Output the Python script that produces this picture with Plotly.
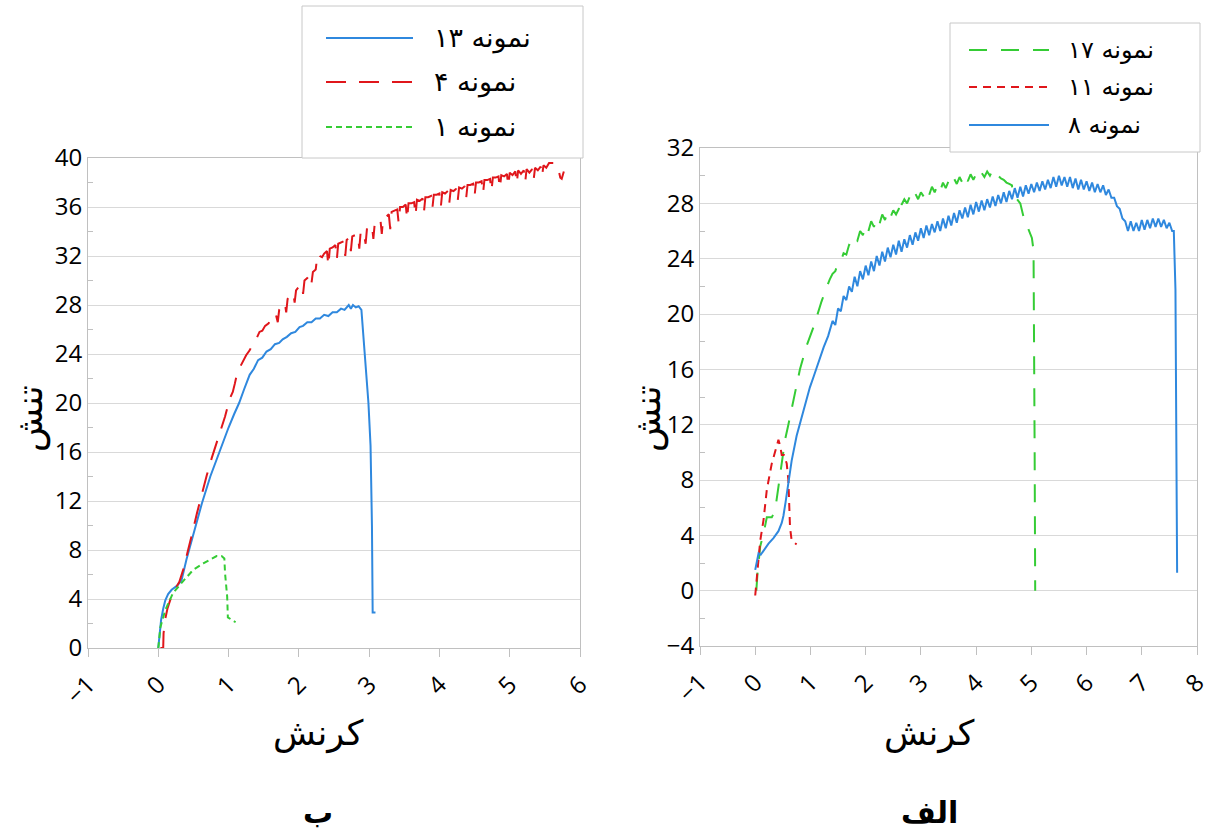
import plotly.graph_objects as go

# ---------------- Panel "ب" (left) ----------------
s13_x = [0.0, 0.02, 0.04, 0.07, 0.10, 0.14, 0.19, 0.26, 0.33, 0.40, 0.50, 0.62, 0.74, 0.88,
         1.00, 1.08, 1.15, 1.22, 1.30, 1.36, 1.42, 1.48, 1.54, 1.60, 1.66, 1.72, 1.77, 1.83,
         1.89, 1.95, 2.01, 2.06, 2.12, 2.18, 2.24, 2.30, 2.36, 2.42, 2.48, 2.54, 2.60, 2.65,
         2.71, 2.74, 2.77, 2.81, 2.85, 2.89, 2.92, 2.95, 2.99, 3.02, 3.04, 3.05, 3.09]
s13_y = [0.0, 1.2, 2.3, 3.2, 3.9, 4.4, 4.75, 5.05, 5.5, 7.2, 9.4, 11.8, 14.0, 16.2,
         18.0, 19.1, 20.0, 21.1, 22.3, 22.8, 23.5, 23.7, 24.2, 24.4, 24.8, 24.9, 25.2, 25.4,
         25.7, 25.8, 26.2, 26.3, 26.6, 26.6, 26.9, 26.9, 27.2, 27.1, 27.4, 27.4, 27.7, 27.6,
         28.0, 27.7, 28.0, 27.8, 27.9, 27.6, 25.3, 23.5, 20.0, 16.5, 10.0, 2.9, 2.9]

s4_x = [0.03, 0.07, 0.075, 0.10, 0.13, 0.18, 0.24, 0.30, 0.36, 0.42, 0.48, 0.55, 0.62, 0.69,
        0.76, 0.82, 0.88, 0.95, 1.02, 1.06, 1.09, 1.12, 1.16, 1.20, 1.25, 1.30, 1.35, 1.40,
        1.44, 1.48, 1.52, 1.57, 1.60, 1.63, 1.67, 1.70, 1.72, 1.76, 1.80, 1.82, 1.84, 1.88,
        1.92, 1.94, 1.96, 2.00, 2.04, 2.06, 2.08, 2.12, 2.16, 2.18, 2.20, 2.24, 2.26, 2.28,
        2.30, 2.33, 2.36, 2.40, 2.42, 2.44, 2.48, 2.52, 2.54, 2.56, 2.60, 2.64, 2.66, 2.68,
        2.72, 2.74, 2.76, 2.80, 2.84, 2.86, 2.88, 2.92, 2.95, 2.97, 3.00, 3.04, 3.06, 3.08,
        3.12, 3.16, 3.18, 3.20, 3.24, 3.28, 3.30, 3.32, 3.36, 3.40, 3.42, 3.44, 3.48, 3.52,
        3.54, 3.56, 3.60, 3.64, 3.66, 3.68, 3.72, 3.76, 3.78, 3.80, 3.84, 3.88, 3.90, 3.92,
        3.96, 4.00, 4.02, 4.04, 4.08, 4.12, 4.14, 4.16, 4.20, 4.24, 4.26, 4.28, 4.32, 4.36,
        4.38, 4.40, 4.44, 4.48, 4.50, 4.52, 4.56, 4.60, 4.62, 4.64, 4.68, 4.72, 4.74, 4.76,
        4.80, 4.84, 4.86, 4.88, 4.92, 4.96, 4.98, 5.00, 5.04, 5.08, 5.10, 5.12, 5.16, 5.20,
        5.22, 5.24, 5.28, 5.32, 5.34, 5.36, 5.40, 5.44, 5.46, 5.48, 5.52, 5.56, 5.60, 5.64,
        5.68, 5.70, 5.72, 5.74, 5.76, 5.77]
s4_y = [0.0, 0.0, 1.2, 2.4, 3.2, 4.1, 4.8, 5.4, 6.5, 7.8, 9.3, 11.0, 12.6, 14.1,
        15.5, 16.6, 17.6, 18.9, 20.4, 20.9, 21.6, 22.4, 22.9, 23.4, 23.9, 24.3, 24.9, 25.3,
        25.8, 25.9, 26.3, 26.5, 26.9, 27.0, 27.3, 26.6, 27.6, 27.9, 28.2, 27.4, 28.5, 28.7,
        29.0, 28.2, 29.2, 29.5, 29.7, 28.9, 30.0, 30.2, 30.5, 29.8, 30.7, 30.9, 31.9, 32.2,
        32.0, 31.9, 32.2, 32.4, 31.2, 32.6, 32.7, 32.9, 31.7, 33.0, 33.1, 33.2, 32.0, 33.3,
        33.5, 32.4, 33.6, 33.7, 33.8, 32.6, 34.0, 34.0, 33.0, 34.3, 34.3, 34.5, 33.4, 34.7,
        34.7, 35.0, 33.8, 35.2, 35.2, 35.4, 34.2, 35.6, 35.7, 35.8, 34.7, 36.0, 36.0, 36.2,
        35.0, 36.3, 36.3, 36.4, 35.3, 36.6, 36.5, 36.7, 35.6, 36.8, 36.8, 36.9, 35.9, 37.0,
        37.0, 37.1, 36.0, 37.2, 37.1, 37.3, 36.3, 37.4, 37.3, 37.5, 36.5, 37.6, 37.5, 37.7,
        36.7, 37.8, 37.8, 37.9, 36.9, 38.0, 38.0, 38.1, 37.1, 38.2, 38.2, 38.3, 37.3, 38.4,
        38.4, 38.5, 37.5, 38.6, 38.5, 38.7, 37.7, 38.8, 38.6, 38.9, 37.9, 39.0, 38.7, 39.0,
        38.0, 39.1, 38.8, 39.1, 38.2, 39.2, 39.0, 39.3, 38.5, 39.4, 39.2, 39.6, 39.6, 39.6,
        39.4, 38.8, 38.4, 38.3, 38.6, 38.9]

s1_x = [0.0, 0.03, 0.10, 0.21, 0.36, 0.50, 0.64, 0.76, 0.83, 0.90, 0.94, 0.95, 0.98, 0.99, 1.02, 1.10]
s1_y = [0.0, 1.7, 3.1, 4.5, 5.5, 6.4, 6.9, 7.3, 7.5, 7.5, 7.3, 6.1, 4.2, 2.5, 2.4, 2.1]

# ---------------- Panel "الف" (right) ----------------
s17_x = [0.02, 0.04, 0.09, 0.15, 0.21, 0.30, 0.36, 0.42, 0.48, 0.54, 0.60, 0.69, 0.81, 0.93,
         1.06, 1.20, 1.25, 1.30, 1.35, 1.40, 1.45, 1.50, 1.55, 1.60, 1.65, 1.70, 1.75, 1.80,
         1.85, 1.90, 1.95, 2.00, 2.05, 2.10, 2.15, 2.20, 2.25, 2.30, 2.35, 2.40, 2.45, 2.50,
         2.55, 2.60, 2.62, 2.65, 2.70, 2.75, 2.80, 2.85, 2.90, 2.95, 3.00, 3.05, 3.10, 3.15,
         3.20, 3.25, 3.30, 3.35, 3.40, 3.45, 3.50, 3.55, 3.60, 3.65, 3.70, 3.75, 3.80, 3.85,
         3.90, 3.95, 4.00, 4.05, 4.10, 4.15, 4.20, 4.25, 4.30, 4.35, 4.40, 4.45, 4.50, 4.55,
         4.60, 4.65, 4.66, 4.72, 4.80, 4.86, 4.95, 5.01, 5.04, 5.05, 5.06, 5.07]
s17_y = [0.0, 1.2, 3.2, 4.1, 5.3, 5.3, 5.8, 7.5, 9.2, 10.9, 12.0, 13.7, 16.0, 17.7,
         19.1, 20.9, 21.5, 22.0, 22.5, 22.9, 23.1, 23.7, 23.8, 24.4, 24.3, 25.0, 24.9, 25.5,
         25.3, 26.0, 25.7, 26.4, 26.0, 26.7, 26.3, 26.9, 26.5, 27.2, 26.8, 27.4, 27.0, 27.5,
         27.2, 27.6, 28.3, 27.9, 28.3, 28.0, 28.5, 28.2, 28.7, 28.3, 28.8, 28.5, 29.0, 28.6,
         29.2, 28.8, 29.3, 28.9, 29.5, 29.1, 29.6, 29.3, 29.8, 29.4, 29.9, 29.5, 30.0, 29.6,
         30.1, 29.7, 30.1, 29.8, 30.2, 29.9, 30.3, 30.0, 30.4, 30.0, 30.0, 29.8, 29.7, 29.5,
         29.4, 29.3, 28.6, 28.4, 28.0, 27.0, 26.1, 25.5, 24.6, 19.8, 10.0, 0.0]

s11_x = [0.0, 0.03, 0.09, 0.15, 0.21, 0.30, 0.36, 0.42, 0.45, 0.48, 0.52, 0.57, 0.60, 0.62, 0.63, 0.66, 0.75]
s11_y = [-0.35, 1.2, 3.6, 5.1, 7.3, 9.2, 10.1, 10.9, 10.5, 9.8, 9.8, 9.2, 8.0, 6.3, 4.6, 3.6, 3.35]

s8_x = [0.0, 0.02, 0.04, 0.06, 0.10, 0.15, 0.20, 0.24, 0.33, 0.42, 0.48, 0.51, 0.55, 0.58,
        0.62, 0.66, 0.75, 0.87, 0.99, 1.06, 1.15, 1.24, 1.32,
        1.40, 1.45, 1.50, 1.55, 1.60, 1.65, 1.70, 1.75, 1.80, 1.85, 1.90, 1.95, 2.00, 2.05,
        2.10, 2.15, 2.20, 2.25, 2.30, 2.35, 2.40, 2.45, 2.50, 2.55, 2.60, 2.65, 2.70, 2.75,
        2.80, 2.85, 2.90, 2.95, 3.00, 3.05, 3.10, 3.15, 3.20, 3.25, 3.30, 3.35, 3.40, 3.45,
        3.50, 3.55, 3.60, 3.65, 3.70, 3.75, 3.80, 3.85, 3.90, 3.95, 4.00, 4.05, 4.10, 4.15,
        4.20, 4.25, 4.30, 4.35, 4.40, 4.45, 4.50, 4.55, 4.60, 4.65, 4.70, 4.75, 4.80, 4.85,
        4.90, 4.95, 5.00, 5.05, 5.10, 5.15, 5.20, 5.25, 5.30, 5.35, 5.40, 5.45, 5.50, 5.55,
        5.60, 5.65, 5.70, 5.75, 5.80, 5.85, 5.90, 5.95, 6.00, 6.05, 6.10, 6.15, 6.20, 6.25,
        6.30, 6.35, 6.40, 6.45, 6.50, 6.55, 6.60, 6.65, 6.70, 6.75, 6.80, 6.85, 6.90, 6.95,
        7.00, 7.05, 7.10, 7.15, 7.20, 7.25, 7.30, 7.35, 7.40, 7.45, 7.50, 7.55, 7.58, 7.61,
        7.63, 7.64]
s8_y = [1.5, 2.0, 2.5, 2.7, 2.6, 2.9, 3.2, 3.4, 3.8, 4.3, 4.9, 5.4, 6.4, 7.3,
        8.4, 9.4, 11.2, 13.0, 14.7, 15.5, 16.6, 17.6, 18.4,
        19.5, 19.2, 20.4, 20.2, 21.3, 21.0, 22.0, 21.6, 22.7, 22.0, 23.1, 22.5, 23.5, 22.8,
        23.8, 23.1, 24.2, 23.5, 24.5, 23.8, 24.8, 24.1, 25.0, 24.3, 25.3, 24.5, 25.4, 24.8,
        25.7, 25.0, 25.9, 25.3, 26.2, 25.5, 26.4, 25.7, 26.5, 25.9, 26.7, 26.0, 26.9, 26.2,
        27.1, 26.4, 27.3, 26.6, 27.5, 26.9, 27.7, 27.0, 27.9, 27.2, 28.1, 27.4, 28.2, 27.5,
        28.3, 27.7, 28.5, 27.8, 28.6, 28.0, 28.8, 28.1, 28.9, 28.3, 29.1, 28.4, 29.2, 28.5,
        29.3, 28.7, 29.4, 28.8, 29.5, 28.9, 29.6, 29.0, 29.7, 29.1, 29.9, 29.2, 30.0, 29.3,
        29.9, 29.2, 29.9, 29.1, 29.8, 29.0, 29.7, 29.0, 29.6, 28.9, 29.5, 28.8, 29.4, 28.8,
        29.3, 28.6, 29.0, 28.4, 28.4, 27.8, 27.6, 26.9, 26.7, 26.0, 26.7, 26.0, 26.6, 26.0,
        26.8, 26.1, 26.8, 26.2, 26.9, 26.3, 26.9, 26.3, 26.8, 26.2, 26.6, 26.0, 26.0, 21.75,
        10.0, 1.3]

left_names = ["نمونه ۱۳", "نمونه ۴", "نمونه ۱"]
right_names = ["نمونه ۱۷", "نمونه ۱۱", "نمونه ۸"]
panel_labels = ["ب", "الف"]
x_title = "کرنش"
y_title = "تنش"

BLUE = "#2f88de"
RED = "#e0161b"
GREEN = "#35cc35"
AR_FONT = "DejaVu Sans"
NUM_FONT = "Open Sans"

left_styles = [(BLUE, "solid"), (RED, "20px,13px"), (GREEN, "6px,4px")]
right_styles = [(GREEN, "18px,14px"), (RED, "8px,6px"), (BLUE, "solid")]

fig = go.Figure()
for (xs, ys), name, (col, dash) in zip([(s13_x, s13_y), (s4_x, s4_y), (s1_x, s1_y)], left_names, left_styles):
    fig.add_trace(go.Scatter(x=xs, y=ys, mode="lines", name=name, showlegend=False,
                             line=dict(color=col, width=2, dash=dash), xaxis="x", yaxis="y"))
for (xs, ys), name, (col, dash) in zip([(s17_x, s17_y), (s11_x, s11_y), (s8_x, s8_y)], right_names, right_styles):
    fig.add_trace(go.Scatter(x=xs, y=ys, mode="lines", name=name, showlegend=False,
                             line=dict(color=col, width=2, dash=dash), xaxis="x2", yaxis="y2"))

W, H = 1212, 838
def px(v):
    return v / W
def py(v):
    return 1 - v / H

GRID = "#d9d9d9"
AXC = "#c0c0c0"
tickfont = dict(family=NUM_FONT, size=24, color="#000000")

def xaxis(domain, rng, anchor):
    return dict(domain=domain, range=rng, dtick=1, tick0=0, showgrid=False, zeroline=False,
                showline=True, linecolor=AXC, linewidth=1, mirror=True, automargin=False,
                ticks="outside", ticklen=8, tickcolor=AXC, tickangle=-45,
                tickfont=tickfont, anchor=anchor, ticklabelstandoff=4, fixedrange=True)

def yaxis(domain, rng, anchor):
    return dict(domain=domain, range=rng, dtick=4, tick0=0, showgrid=True, gridcolor=GRID,
                gridwidth=1, zeroline=False, showline=True, linecolor=AXC, linewidth=1,
                mirror=True, ticks="", tickfont=tickfont, anchor=anchor, automargin=False,
                minor=dict(dtick=2, ticks="inside", ticklen=5, tickcolor=AXC, showgrid=False),
                fixedrange=True)

fig.update_layout(
    width=W, height=H, margin=dict(l=0, r=0, t=0, b=0, autoexpand=False),
    paper_bgcolor="white", plot_bgcolor="white", showlegend=False,
    xaxis=xaxis([px(88), px(580)], [-1, 6], "y"),
    yaxis=yaxis([1 - 648 / H, 1 - 158 / H], [0, 40], "x"),
    xaxis2=xaxis([px(700), px(1197)], [-1, 8], "y2"),
    yaxis2=yaxis([1 - 646 / H, 1 - 148 / H], [-4, 32], "x2"),
)

shapes = []
annotations = []

def legend(box, rows, line_x, text_x, names, styles, fsize):
    x0, y0, x1, y1 = box
    shapes.append(dict(type="rect", xref="paper", yref="paper", x0=px(x0), x1=px(x1),
                       y0=py(y1), y1=py(y0), line=dict(color="#c8c8c8", width=1),
                       fillcolor="white", layer="above"))
    for ry, name, (col, dash) in zip(rows, names, styles):
        shapes.append(dict(type="line", xref="paper", yref="paper", x0=px(line_x[0]), x1=px(line_x[1]),
                           y0=py(ry), y1=py(ry), line=dict(color=col, width=2, dash=dash), layer="above"))
        annotations.append(dict(text=name, xref="paper", yref="paper", x=px(text_x), y=py(ry),
                                xanchor="left", yanchor="middle", showarrow=False,
                                font=dict(family=AR_FONT, size=fsize, color="#000000")))

legend((302, 6, 583, 158), [38, 82, 127], (326, 413), 432, left_names, left_styles, 27)
legend((950, 23, 1200, 152), [50, 87, 125], (969, 1049), 1066, right_names, right_styles, 24)

for cx, label in [(318, panel_labels[0]), (929, panel_labels[1])]:
    annotations.append(dict(text=x_title, xref="paper", yref="paper", x=px(cx), y=py(733),
                            xanchor="center", yanchor="middle", showarrow=False,
                            font=dict(family=AR_FONT, size=35, color="#000000")))
    annotations.append(dict(text="<b>" + label + "</b>", xref="paper", yref="paper", x=px(cx), y=py(812),
                            xanchor="center", yanchor="middle", showarrow=False,
                            font=dict(family=AR_FONT, size=30, color="#000000")))

for cx in [30, 648]:
    annotations.append(dict(text=y_title, xref="paper", yref="paper", x=px(cx), y=py(419),
                            xanchor="center", yanchor="middle", showarrow=False, textangle=-90,
                            font=dict(family=AR_FONT, size=36, color="#000000")))

fig.update_layout(shapes=shapes, annotations=annotations)
fig.write_html("out.html", config={"displayModeBar": False},
               post_script="document.body.style.margin='0px';document.body.style.overflow='hidden';")
